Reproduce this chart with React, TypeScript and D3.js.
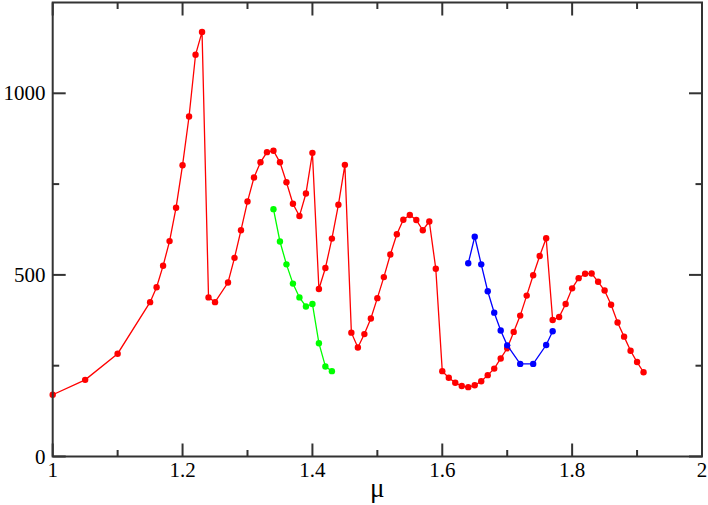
import React from "react";
import * as d3 from "d3";

const redX = [1.0, 1.05, 1.1, 1.15, 1.16, 1.17, 1.18, 1.19, 1.2, 1.21, 1.22, 1.23, 1.24, 1.25, 1.27, 1.28, 1.29, 1.3, 1.31, 1.32, 1.33, 1.34, 1.35, 1.36, 1.37, 1.38, 1.39, 1.4, 1.41, 1.42, 1.43, 1.44, 1.45, 1.46, 1.47, 1.48, 1.49, 1.5, 1.51, 1.52, 1.53, 1.54, 1.55, 1.56, 1.57, 1.58, 1.59, 1.6, 1.61, 1.62, 1.63, 1.64, 1.65, 1.66, 1.67, 1.68, 1.69, 1.7, 1.71, 1.72, 1.73, 1.74, 1.75, 1.76, 1.77, 1.78, 1.79, 1.8, 1.81, 1.82, 1.83, 1.84, 1.85, 1.86, 1.87, 1.88, 1.89, 1.9, 1.91];
const redY = [170, 211, 283, 425, 466, 525, 593, 685, 802, 936, 1106, 1169, 438, 425, 479, 547, 623, 702, 768, 810, 838, 842, 810, 755, 696, 662, 724, 836, 461, 519, 600, 693, 803, 341, 300, 337, 380, 436, 494, 556, 612, 652, 665, 651, 623, 647, 517, 235, 217, 203, 194, 191, 196, 207, 224, 242, 270, 298, 343, 388, 443, 499, 552, 601, 376, 384, 420, 463, 491, 503, 504, 481, 457, 418, 369, 330, 291, 260, 232];

const greenX = [1.34, 1.35, 1.36, 1.37, 1.38, 1.39, 1.4, 1.41, 1.42, 1.43];
const greenY = [681, 592, 529, 476, 438, 413, 420, 312, 248, 235];

const blueX = [1.64, 1.65, 1.66, 1.67, 1.68, 1.69, 1.7, 1.72, 1.74, 1.76, 1.77];
const blueY = [532, 605, 529, 455, 396, 347, 306, 255, 255, 307, 345];

const xMajor = [1, 1.2, 1.4, 1.6, 1.8, 2];
const xMinor = [1.1, 1.3, 1.5, 1.7, 1.9];
const yMajor = [0, 500, 1000];
const yMinor = [250, 750];

const series = [
  { name: "red", xs: redX, ys: redY, color: "#ff0000" },
  { name: "green", xs: greenX, ys: greenY, color: "#00ff00" },
  { name: "blue", xs: blueX, ys: blueY, color: "#0000ff" },
];

export default function App() {
  const W = 708, H = 505;
  const left = 52.7, right = 702, top = 2.5, bottom = 456.5;
  const x = d3.scaleLinear().domain([1, 2]).range([left, right]);
  const y = d3.scaleLinear().domain([0, 1250]).range([bottom, top]);
  const line = d3.line<[number, number]>().x(d => x(d[0])).y(d => y(d[1]));
  const axisColor = "#333";
  const font = '"Liberation Serif", "Times New Roman", Times, "DejaVu Serif", serif';
  const txt = { fontFamily: font } as React.CSSProperties;
  const major = 13, minor = 6.5;
  return (
    <svg width={W} height={H} style={{ position: "absolute", left: 0, top: 0, background: "#fff" }}>
      <rect x={0} y={0} width={W} height={H} fill="#fff" />
      {series.map(s => {
        const pts = s.xs.map((v, i) => [v, s.ys[i]] as [number, number]);
        return (
          <g key={s.name}>
            <path d={line(pts) || ""} fill="none" stroke={s.color} strokeWidth={1.3} />
            {pts.map((p, i) => (
              <circle key={i} cx={x(p[0])} cy={y(p[1])} r={3.2} fill={s.color} />
            ))}
          </g>
        );
      })}
      <rect x={left} y={top} width={right - left} height={bottom - top} fill="none" stroke={axisColor} strokeWidth={2} />
      {xMajor.map(v => (
        <g key={"xm" + v}>
          <line x1={x(v)} x2={x(v)} y1={bottom} y2={bottom - major} stroke={axisColor} strokeWidth={2} />
          <line x1={x(v)} x2={x(v)} y1={top} y2={top + major} stroke={axisColor} strokeWidth={2} />
          <text x={x(v)} y={477} textAnchor="middle" style={txt} fontSize={21} fill="#000">{String(v)}</text>
        </g>
      ))}
      {xMinor.map(v => (
        <g key={"xn" + v}>
          <line x1={x(v)} x2={x(v)} y1={bottom} y2={bottom - minor} stroke={axisColor} strokeWidth={2} />
          <line x1={x(v)} x2={x(v)} y1={top} y2={top + minor} stroke={axisColor} strokeWidth={2} />
        </g>
      ))}
      {yMajor.map(v => (
        <g key={"ym" + v}>
          <line x1={left} x2={left + major} y1={y(v)} y2={y(v)} stroke={axisColor} strokeWidth={2} />
          <line x1={right} x2={right - major} y1={y(v)} y2={y(v)} stroke={axisColor} strokeWidth={2} />
          <text x={45.5} y={y(v) + 7} textAnchor="end" style={txt} fontSize={21} fill="#000">{String(v)}</text>
        </g>
      ))}
      {yMinor.map(v => (
        <g key={"yn" + v}>
          <line x1={left} x2={left + minor} y1={y(v)} y2={y(v)} stroke={axisColor} strokeWidth={2} />
          <line x1={right} x2={right - minor} y1={y(v)} y2={y(v)} stroke={axisColor} strokeWidth={2} />
        </g>
      ))}
      <text x={(left + right) / 2} y={497} textAnchor="middle" style={txt} fontSize={27} fill="#000">μ</text>
    </svg>
  );
}
